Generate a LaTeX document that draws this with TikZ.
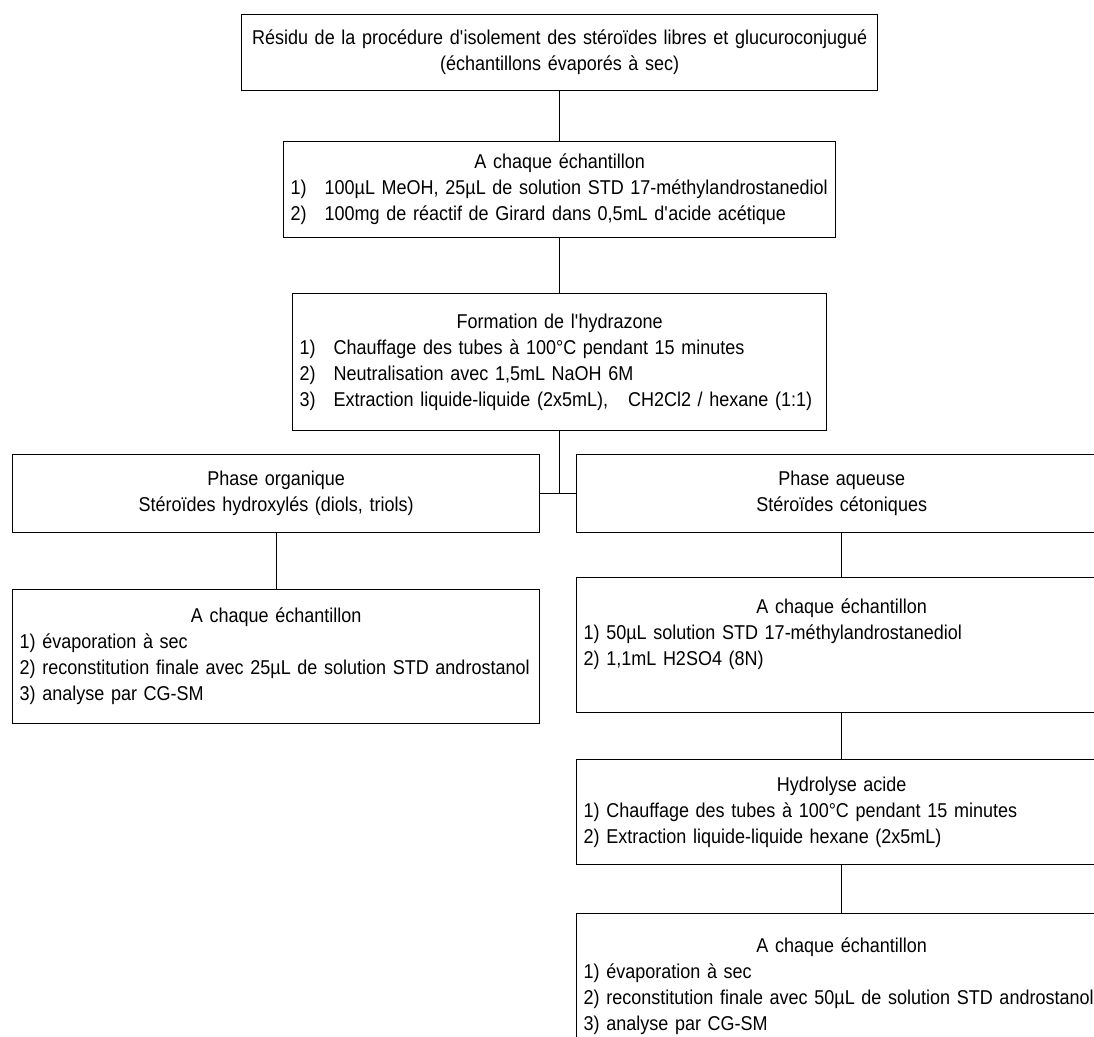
\documentclass[tikz,border=0pt]{standalone}
\usepackage{fontspec}
\setmainfont{Liberation Sans}[FakeStretch=0.9]
\usepackage{tikz}

\newcommand{\etape}[1]{\makebox[34pt][l]{#1}}
\newcommand{\titre}[1]{\makebox[\hsize][c]{#1}}
\newcommand{\apos}{\textquotesingle}

\begin{document}
\begin{tikzpicture}[x=1pt, y=-1pt,
    boite/.style={draw, line width=1.3pt, anchor=north west, inner xsep=7pt, inner ysep=0pt,
        align=left, font=\fontsize{20}{26}\selectfont},
    lien/.style={line width=1.3pt}]
    \useasboundingbox (0,0) rectangle (1094,1036);
    \clip (0,0) rectangle (1094,1036);
    % tronc commun
    \node[boite, align=center, text width=622pt, minimum height=76pt] (residu) at (241,14)
        {R\'esidu de la proc\'edure d\apos isolement des st\'ero\"ides libres et glucuroconjugu\'e\\
         (\'echantillons \'evapor\'es \`a sec)};
    \node[boite, text width=538pt, minimum height=96pt] (chaque) at (283,141)
        {\titre{A chaque \'echantillon}\\
         \etape{1)}100µL MeOH, 25µL de solution STD 17-m\'ethylandrostanediol\\
         \etape{2)}100mg de r\'eactif de Girard dans 0,5mL d\apos acide ac\'etique};
    \node[boite, text width=520pt, minimum height=137pt] (hydrazone) at (292,293)
        {\titre{Formation de l\apos hydrazone}\\
         \etape{1)}Chauffage des tubes \`a 100°C pendant 15 minutes\\
         \etape{2)}Neutralisation avec 1,5mL NaOH 6M\\
         \etape{3)}Extraction liquide-liquide (2x5mL),\ \ \ CH2Cl2 / hexane (1:1)};
    % phase organique
    \node[boite, align=center, text width=513pt, minimum height=78pt] (organique) at (12,454)
        {Phase organique\\ St\'ero\"ides hydroxyl\'es (diols, triols)};
    \node[boite, text width=513pt, minimum height=134pt] (finorg) at (12,589)
        {\titre{A chaque \'echantillon}\\
         1) \'evaporation \`a sec\\
         2) reconstitution finale avec 25µL de solution STD androstanol\\
         3) analyse par CG-SM};
    % phase aqueuse
    \node[boite, align=center, text width=516pt, minimum height=78pt] (aqueuse) at (576,454)
        {Phase aqueuse\\ St\'ero\"ides c\'etoniques};
    \node[boite, text width=516pt, minimum height=135pt] (cetone) at (576,577)
        {\titre{A chaque \'echantillon}\\
         1) 50µL solution STD 17-m\'ethylandrostanediol\\
         2) 1,1mL H2SO4 (8N)\\ \mbox{}};
    \node[boite, text width=516pt, minimum height=105pt] (hydrolyse) at (576,759)
        {\titre{Hydrolyse acide}\\
         1) Chauffage des tubes \`a 100°C pendant 15 minutes\\
         2) Extraction liquide-liquide hexane (2x5mL)};
    \node[boite, text width=516pt, minimum height=145pt] (finaq) at (576,913)
        {\titre{A chaque \'echantillon}\\
         1) \'evaporation \`a sec\\
         \mbox{2) reconstitution finale avec 50µL de solution STD androstanol}\\
         3) analyse par CG-SM};
    % liaisons
    \draw[lien] (residu.south) -- (chaque.north);
    \draw[lien] (chaque.south) -- (hydrazone.north);
    \draw[lien] (hydrazone.south) -- (hydrazone.south |- organique.east);
    \draw[lien] (organique.east) -- (aqueuse.west);
    \draw[lien] (organique.south) -- (finorg.north);
    \draw[lien] (aqueuse.south) -- (cetone.north);
    \draw[lien] (cetone.south) -- (hydrolyse.north);
    \draw[lien] (hydrolyse.south) -- (finaq.north);
\end{tikzpicture}
\end{document}
